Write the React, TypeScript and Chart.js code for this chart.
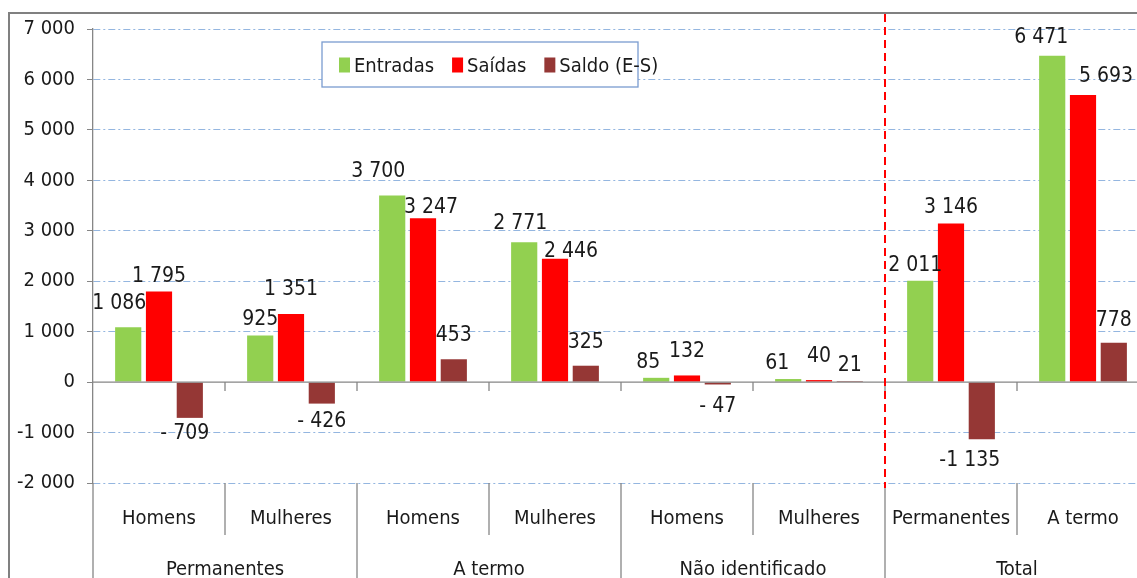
import React, { useEffect, useRef } from 'react';
import { Chart, registerables } from 'chart.js';

Chart.register(...registerables);

const categories = ['Homens', 'Mulheres', 'Homens', 'Mulheres', 'Homens', 'Mulheres', 'Permanentes', 'A termo'];
const groupLabels = ['Permanentes', 'A termo', 'Não identificado', 'Total'];
const entradas = [1086, 925, 3700, 2771, 85, 61, 2011, 6471];
const saidas = [1795, 1351, 3247, 2446, 132, 40, 3146, 5693];
const saldo = [-709, -426, 453, 325, -47, 21, -1135, 778];
const seriesNames = ['Entradas', 'Saídas', 'Saldo (E-S)'];
const seriesColors = ['#92D050', '#FF0000', '#953735'];
const yMin = -2000;
const yMax = 7000;
const yStep = 1000;

const FONT = "'Liberation Sans Narrow', 'Arial Narrow', 'DejaVu Sans Condensed', sans-serif";
const TEXT = '#1a1a1a';
const AXIS = '#868686';

// manual label adjustments (as in the original, labels were moved by hand)
const labelNudge: Record<string, [number, number]> = {
  '0-0': [-9, -8], '0-2': [-14, -8], '0-3': [-4, -3], '0-4': [-8, 0], '0-5': [-11, 0], '0-6': [-5, 0], '0-7': [-11, -3],
  '1-1': [0, -9], '1-2': [8, 5], '1-3': [16, 8], '1-4': [0, -8], '1-5': [0, -8], '1-7': [23, -3],
  '2-0': [-5, -2], '2-2': [0, -8], '2-3': [0, -8], '2-4': [0, 5], '2-6': [-12, 4], '2-7': [0, -7],
};

function fmt(v: number): string {
  const a = Math.abs(Math.round(v));
  let s = a.toString();
  if (a >= 1000) s = s.slice(0, -3) + ' ' + s.slice(-3);
  if (v < 0) return a < 1000 ? '- ' + s : '-' + s;
  return s;
}

const overlay = {
  id: 'overlay',
  afterDraw(chart: any) {
    const ctx = chart.ctx as CanvasRenderingContext2D;
    const { chartArea, scales } = chart;
    const x = scales.x;
    const y = scales.y;
    const H = chart.height;
    const y0 = y.getPixelForValue(0);
    const half = (x.getPixelForValue(1) - x.getPixelForValue(0)) / 2;
    const n = categories.length;
    const boundary = (i: number) => x.getPixelForValue(0) - half + i * half * 2;

    ctx.save();
    ctx.strokeStyle = AXIS;
    ctx.lineWidth = 1.3;
    ctx.setLineDash([]);
    // zero line
    ctx.beginPath();
    ctx.moveTo(chartArea.left, y0);
    ctx.lineTo(chartArea.right + 30, y0);
    ctx.stroke();
    // tick marks on zero line
    for (let i = 1; i <= n; i++) {
      const bx = boundary(i);
      ctx.beginPath();
      ctx.moveTo(bx, y0);
      ctx.lineTo(bx, y0 + 9);
      ctx.stroke();
    }
    // left axis extension
    ctx.beginPath();
    ctx.moveTo(chartArea.left, chartArea.bottom);
    ctx.lineTo(chartArea.left, H);
    ctx.stroke();
    // separators below chart
    for (let i = 1; i <= n; i++) {
      const bx = boundary(i);
      ctx.beginPath();
      ctx.moveTo(bx, chartArea.bottom);
      ctx.lineTo(bx, i % 2 === 0 ? H : chartArea.bottom + 52);
      ctx.stroke();
    }
    // group labels
    ctx.fillStyle = TEXT;
    ctx.font = `20px ${FONT}`;
    ctx.textAlign = 'center';
    ctx.textBaseline = 'alphabetic';
    groupLabels.forEach((g, gi) => {
      const cx = (boundary(gi * 2) + boundary(gi * 2 + 2)) / 2;
      ctx.fillText(g, cx, H - 3);
    });

    // red dashed divider
    ctx.strokeStyle = '#FF0000';
    ctx.lineWidth = 2;
    ctx.setLineDash([8, 5]);
    ctx.beginPath();
    const rx = boundary(6);
    ctx.moveTo(rx, 0);
    ctx.lineTo(rx, chartArea.bottom + 5);
    ctx.stroke();
    ctx.setLineDash([]);

    // data labels
    ctx.font = `21px ${FONT}`;
    ctx.fillStyle = TEXT;
    chart.data.datasets.forEach((ds: any, di: number) => {
      const meta = chart.getDatasetMeta(di);
      meta.data.forEach((bar: any, i: number) => {
        const v = ds.data[i];
        const t = fmt(v);
        const [dx, dy] = labelNudge[`${di}-${i}`] || [0, 0];
        if (v >= 0) ctx.fillText(t, bar.x + dx, bar.y - 10 + dy);
        else ctx.fillText(t, bar.x + dx, bar.y + 23 + dy);
      });
    });

    // legend box
    const lx = chartArea.left + 229;
    const ly = chartArea.top + 13;
    const lw = 316;
    const lh = 45;
    ctx.fillStyle = '#ffffff';
    ctx.fillRect(lx, ly, lw, lh);
    ctx.strokeStyle = '#7A9CD0';
    ctx.lineWidth = 1.3;
    ctx.strokeRect(lx, ly, lw, lh);
    ctx.font = `20px ${FONT}`;
    ctx.textAlign = 'left';
    let cx = lx + 17;
    const cy = ly + lh / 2;
    chart.data.datasets.forEach((ds: any) => {
      ctx.fillStyle = ds.backgroundColor;
      ctx.fillRect(cx, cy - 7, 11, 15);
      cx += 15;
      ctx.fillStyle = TEXT;
      ctx.fillText(ds.label, cx, cy + 7);
      cx += ctx.measureText(ds.label).width + 18;
    });
    ctx.restore();
  },
};

export default function App() {
  const ref = useRef<HTMLCanvasElement | null>(null);
  useEffect(() => {
    if (!ref.current) return;
    const series = [entradas, saidas, saldo];
    const chart = new Chart(ref.current, {
      type: 'bar',
      data: {
        labels: categories,
        datasets: series.map((d, i) => ({
          label: seriesNames[i],
          data: d,
          backgroundColor: seriesColors[i],
          borderWidth: 0,
          categoryPercentage: 0.7,
          barPercentage: 0.85,
        })),
      },
      options: {
        animation: false,
        responsive: false,
        devicePixelRatio: 1,
        layout: { padding: { left: 0, top: 15, right: 21, bottom: 0 } },
        plugins: { legend: { display: false }, tooltip: { enabled: false } },
        scales: {
          x: {
            grid: { display: false, drawTicks: false },
            border: { display: false },
            ticks: { color: TEXT, font: { family: FONT, size: 20 }, padding: 24, maxRotation: 0, autoSkip: false },
            afterFit: (s: any) => {
              s.height = 95;
              s.paddingLeft = 0;
              s.paddingRight = 0;
            },
          },
          y: {
            min: yMin,
            max: yMax,
            ticks: {
              stepSize: yStep,
              color: TEXT,
              font: { family: FONT, size: 20 },
              padding: 12,
              callback: (v: any) => fmt(Number(v)),
            },
            grid: {
              color: (c: any) => (c.tick && c.tick.value === 0 ? 'rgba(0,0,0,0)' : '#94B6E0'),
              lineWidth: 1,
              tickLength: 6,
              tickColor: AXIS,
              tickBorderDash: [],
            },
            border: { display: true, color: AXIS, width: 1.3, dash: [7, 3, 2, 3] },
            afterFit: (s: any) => {
              s.width = 83;
              s.paddingTop = 0;
              s.paddingBottom = 0;
            },
          },
        },
      },
      plugins: [overlay],
    } as any);
    return () => chart.destroy();
  }, []);

  return (
    <div style={{ position: 'fixed', inset: 0, overflow: 'hidden', background: '#fff' }}>
      <div
        style={{
          position: 'absolute',
          left: 8,
          top: 12,
          width: 1200,
          height: 640,
          border: '2px solid #808080',
        }}
      >
        <canvas ref={ref} width={1160} height={564} style={{ display: 'block' }} />
      </div>
    </div>
  );
}
